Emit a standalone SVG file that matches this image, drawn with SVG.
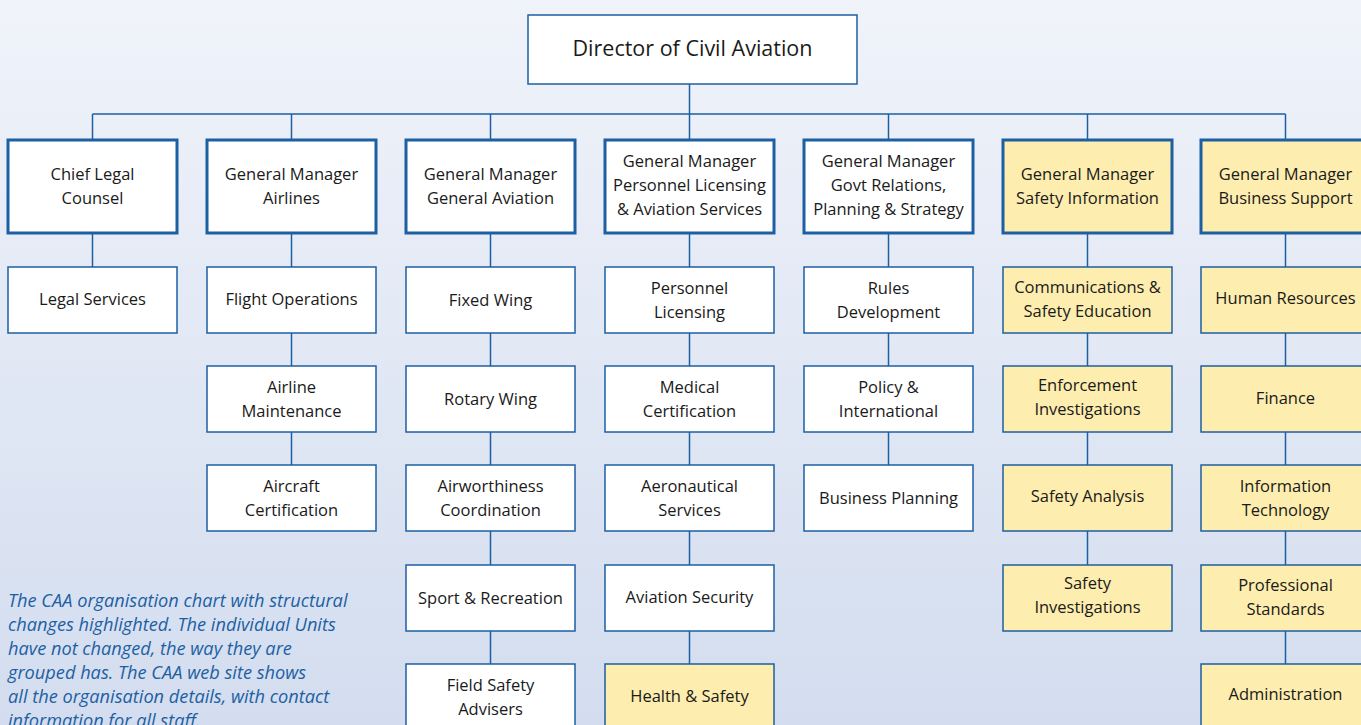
<svg xmlns="http://www.w3.org/2000/svg" width="1361" height="725" viewBox="0 0 1361 725">
<defs>
<linearGradient id="bg" x1="0" y1="0" x2="0" y2="1">
<stop offset="0" stop-color="#f0f3fa"/>
<stop offset="1" stop-color="#d3ddef"/>
</linearGradient>
<style>
.b{fill:#fff;stroke:#1d5fa3;stroke-width:1.5}
.g{fill:#fff;stroke:#1d5fa3;stroke-width:3}
.y{fill:#fdedae}
.t{font-family:"Open Sans","DejaVu Sans",sans-serif;font-size:16.5px;fill:#1a1a1a;text-anchor:middle}
.c{stroke:#1d5fa3;stroke-width:1.5;fill:none}
.cap{font-family:"Open Sans","DejaVu Sans",sans-serif;font-size:18.2px;font-style:italic;fill:#1d5fa3}
</style>
</defs>
<rect width="1361" height="725" fill="url(#bg)"/>
<g id="connectors" class="c">
<path d="M689.5 84V114M92.5 114H1285.5M92.5 114V140M291.5 114V140M490.5 114V140M689.5 114V140M888.5 114V140M1087.5 114V140M1285.5 114V140"/>
<path d="M92.5 233V267"/>
<path d="M291.5 233V267M291.5 333V366M291.5 432V465"/>
<path d="M490.5 233V267M490.5 333V366M490.5 432V465M490.5 531V565M490.5 631V664"/>
<path d="M689.5 233V267M689.5 333V366M689.5 432V465M689.5 531V565M689.5 631V664"/>
<path d="M888.5 233V267M888.5 333V366M888.5 432V465"/>
<path d="M1087.5 233V267M1087.5 333V366M1087.5 432V465M1087.5 531V565"/>
<path d="M1285.5 233V267M1285.5 333V366M1285.5 432V465M1285.5 531V565M1285.5 631V664"/>
</g>
<g id="director"><rect class="b" x="528" y="15" width="329" height="69"/><text class="t" x="692.5" y="56" style="font-size:21.5px">Director of Civil Aviation</text></g>

<g id="gm-legal"><rect class="g" x="8" y="140" width="169" height="93"/><text class="t" x="92.5" y="180">Chief Legal</text><text class="t" x="92.5" y="204">Counsel</text></g>
<g id="gm-airlines"><rect class="g" x="207" y="140" width="169" height="93"/><text class="t" x="291.5" y="180">General Manager</text><text class="t" x="291.5" y="204">Airlines</text></g>
<g id="gm-ga"><rect class="g" x="406" y="140" width="169" height="93"/><text class="t" x="490.5" y="180">General Manager</text><text class="t" x="490.5" y="204">General Aviation</text></g>
<g id="gm-pl"><rect class="g" x="605" y="140" width="169" height="93"/><text class="t" x="689.5" y="167">General Manager</text><text class="t" x="689.5" y="191">Personnel Licensing</text><text class="t" x="689.5" y="215">&amp; Aviation Services</text></g>
<g id="gm-govt"><rect class="g" x="804" y="140" width="169" height="93"/><text class="t" x="888.5" y="167">General Manager</text><text class="t" x="888.5" y="191">Govt Relations,</text><text class="t" x="888.5" y="215">Planning &amp; Strategy</text></g>
<g id="gm-si"><rect class="g y" x="1003" y="140" width="169" height="93"/><text class="t" x="1087.5" y="180">General Manager</text><text class="t" x="1087.5" y="204">Safety Information</text></g>
<g id="gm-bs"><rect class="g y" x="1201" y="140" width="169" height="93"/><text class="t" x="1285.5" y="180">General Manager</text><text class="t" x="1285.5" y="204">Business Support</text></g>

<g id="legal-services"><rect class="b" x="8" y="267" width="169" height="66"/><text class="t" x="92.5" y="305">Legal Services</text></g>

<g id="flight-ops"><rect class="b" x="207" y="267" width="169" height="66"/><text class="t" x="291.5" y="305">Flight Operations</text></g>
<g id="airline-maint"><rect class="b" x="207" y="366" width="169" height="66"/><text class="t" x="291.5" y="393">Airline</text><text class="t" x="291.5" y="417">Maintenance</text></g>
<g id="aircraft-cert"><rect class="b" x="207" y="465" width="169" height="66"/><text class="t" x="291.5" y="492">Aircraft</text><text class="t" x="291.5" y="516">Certification</text></g>

<g id="fixed-wing"><rect class="b" x="406" y="267" width="169" height="66"/><text class="t" x="490.5" y="306">Fixed Wing</text></g>
<g id="rotary-wing"><rect class="b" x="406" y="366" width="169" height="66"/><text class="t" x="490.5" y="405">Rotary Wing</text></g>
<g id="airworthiness"><rect class="b" x="406" y="465" width="169" height="66"/><text class="t" x="490.5" y="492">Airworthiness</text><text class="t" x="490.5" y="516">Coordination</text></g>
<g id="sport"><rect class="b" x="406" y="565" width="169" height="66"/><text class="t" x="490.5" y="604">Sport &amp; Recreation</text></g>
<g id="field-safety"><rect class="b" x="406" y="664" width="169" height="66"/><text class="t" x="490.5" y="691">Field Safety</text><text class="t" x="490.5" y="715">Advisers</text></g>

<g id="personnel-lic"><rect class="b" x="605" y="267" width="169" height="66"/><text class="t" x="689.5" y="294">Personnel</text><text class="t" x="689.5" y="318">Licensing</text></g>
<g id="medical"><rect class="b" x="605" y="366" width="169" height="66"/><text class="t" x="689.5" y="393">Medical</text><text class="t" x="689.5" y="417">Certification</text></g>
<g id="aero-services"><rect class="b" x="605" y="465" width="169" height="66"/><text class="t" x="689.5" y="492">Aeronautical</text><text class="t" x="689.5" y="516">Services</text></g>
<g id="aviation-security"><rect class="b" x="605" y="565" width="169" height="66"/><text class="t" x="689.5" y="603">Aviation Security</text></g>
<g id="health-safety"><rect class="b y" x="605" y="664" width="169" height="66"/><text class="t" x="689.5" y="702">Health &amp; Safety</text></g>

<g id="rules-dev"><rect class="b" x="804" y="267" width="169" height="66"/><text class="t" x="888.5" y="294">Rules</text><text class="t" x="888.5" y="318">Development</text></g>
<g id="policy"><rect class="b" x="804" y="366" width="169" height="66"/><text class="t" x="888.5" y="393">Policy &amp;</text><text class="t" x="888.5" y="417">International</text></g>
<g id="business-planning"><rect class="b" x="804" y="465" width="169" height="66"/><text class="t" x="888.5" y="504">Business Planning</text></g>

<g id="comms"><rect class="b y" x="1003" y="267" width="169" height="66"/><text class="t" x="1087.5" y="293">Communications &amp;</text><text class="t" x="1087.5" y="317">Safety Education</text></g>
<g id="enforcement"><rect class="b y" x="1003" y="366" width="169" height="66"/><text class="t" x="1087.5" y="391">Enforcement</text><text class="t" x="1087.5" y="415">Investigations</text></g>
<g id="safety-analysis"><rect class="b y" x="1003" y="465" width="169" height="66"/><text class="t" x="1087.5" y="502">Safety Analysis</text></g>
<g id="safety-inv"><rect class="b y" x="1003" y="565" width="169" height="66"/><text class="t" x="1087.5" y="589">Safety</text><text class="t" x="1087.5" y="613">Investigations</text></g>

<g id="hr"><rect class="b y" x="1201" y="267" width="169" height="66"/><text class="t" x="1285.5" y="304">Human Resources</text></g>
<g id="finance"><rect class="b y" x="1201" y="366" width="169" height="66"/><text class="t" x="1285.5" y="404">Finance</text></g>
<g id="it"><rect class="b y" x="1201" y="465" width="169" height="66"/><text class="t" x="1285.5" y="492">Information</text><text class="t" x="1285.5" y="516">Technology</text></g>
<g id="prof-standards"><rect class="b y" x="1201" y="565" width="169" height="66"/><text class="t" x="1285.5" y="591">Professional</text><text class="t" x="1285.5" y="615">Standards</text></g>
<g id="admin"><rect class="b y" x="1201" y="664" width="169" height="66"/><text class="t" x="1285.5" y="700">Administration</text></g>

<g id="caption" class="cap">
<text x="8" y="607">The CAA organisation chart with structural</text>
<text x="8" y="631">changes highlighted. The individual Units</text>
<text x="8" y="655">have not changed, the way they are</text>
<text x="8" y="679">grouped has. The CAA web site shows</text>
<text x="8" y="703">all the organisation details, with contact</text>
<text x="8" y="727">information for all staff.</text>
</g>
</svg>
